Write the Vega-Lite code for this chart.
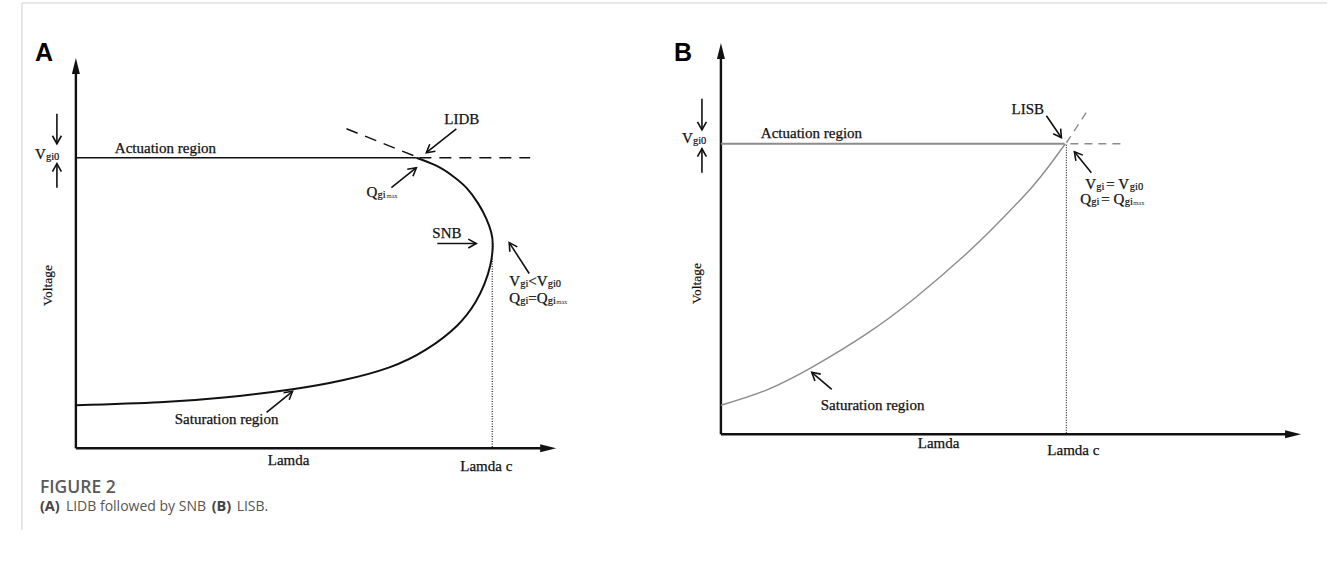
{
  "$schema": "https://vega.github.io/schema/vega-lite/v6.json",
  "width": 1329,
  "height": 561,
  "autosize": {"type": "fit", "contains": "padding"},
  "padding": 0,
  "background": "white",
  "config": {"view": {"stroke": null}},
  "datasets": {
    "lines": [
      {"g":"border","id":"b1","o":0,"x":22,"y":2},{"g":"border","id":"b1","o":1,"x":1329,"y":2},
      {"g":"border","id":"b2","o":0,"x":22,"y":2},{"g":"border","id":"b2","o":1,"x":22,"y":530},
      {"g":"axis","id":"aAy","o":0,"x":76,"y":448},{"g":"axis","id":"aAy","o":1,"x":76,"y":66},
      {"g":"axis","id":"aAx","o":0,"x":76,"y":448},{"g":"axis","id":"aAx","o":1,"x":548,"y":448},
      {"g":"axis","id":"aBy","o":0,"x":722,"y":434},{"g":"axis","id":"aBy","o":1,"x":722,"y":51},
      {"g":"axis","id":"aBx","o":0,"x":722,"y":434},{"g":"axis","id":"aBx","o":1,"x":1294,"y":434},
      {"g":"curveA","id":"cA","o":0,"x":417,"y":157},
      {"g":"curveA","id":"cA","o":1,"x":437,"y":165},
      {"g":"curveA","id":"cA","o":2,"x":453,"y":175},
      {"g":"curveA","id":"cA","o":3,"x":467,"y":187},
      {"g":"curveA","id":"cA","o":4,"x":479,"y":203},
      {"g":"curveA","id":"cA","o":5,"x":487,"y":218},
      {"g":"curveA","id":"cA","o":6,"x":492,"y":232},
      {"g":"curveA","id":"cA","o":7,"x":493.5,"y":246},
      {"g":"curveA","id":"cA","o":8,"x":491,"y":265},
      {"g":"curveA","id":"cA","o":9,"x":485,"y":284},
      {"g":"curveA","id":"cA","o":10,"x":476,"y":302},
      {"g":"curveA","id":"cA","o":11,"x":458,"y":325},
      {"g":"curveA","id":"cA","o":12,"x":427,"y":349},
      {"g":"curveA","id":"cA","o":13,"x":390,"y":367},
      {"g":"curveA","id":"cA","o":14,"x":343,"y":380},
      {"g":"curveA","id":"cA","o":15,"x":293,"y":389},
      {"g":"curveA","id":"cA","o":16,"x":227,"y":397},
      {"g":"curveA","id":"cA","o":17,"x":160,"y":402},
      {"g":"curveA","id":"cA","o":18,"x":76,"y":405},
      {"g":"solidA","id":"sA","o":0,"x":76,"y":157},{"g":"solidA","id":"sA","o":1,"x":417,"y":157},
      {"g":"dashA","id":"dA1","o":0,"x":347,"y":128},{"g":"dashA","id":"dA1","o":1,"x":417,"y":156},
      {"g":"dashA","id":"dA2","o":0,"x":420,"y":157},{"g":"dashA","id":"dA2","o":1,"x":531,"y":157},
      {"g":"dot","id":"dtA","o":0,"x":493,"y":243},{"g":"dot","id":"dtA","o":1,"x":493,"y":448},
      {"g":"dot","id":"dtB","o":0,"x":1068,"y":144},{"g":"dot","id":"dtB","o":1,"x":1068,"y":434},
      {"g":"grayB","id":"gB","o":0,"x":722,"y":143},{"g":"grayB","id":"gB","o":1,"x":1066,"y":143},
      {"g":"curveB","id":"cB","o":0,"x":722,"y":405},
      {"g":"curveB","id":"cB","o":1,"x":767,"y":390},
      {"g":"curveB","id":"cB","o":2,"x":813,"y":367},
      {"g":"curveB","id":"cB","o":3,"x":867,"y":334},
      {"g":"curveB","id":"cB","o":4,"x":917,"y":297},
      {"g":"curveB","id":"cB","o":5,"x":967,"y":254},
      {"g":"curveB","id":"cB","o":6,"x":1000,"y":222},
      {"g":"curveB","id":"cB","o":7,"x":1033,"y":187},
      {"g":"curveB","id":"cB","o":8,"x":1053,"y":162},
      {"g":"curveB","id":"cB","o":9,"x":1067,"y":143},
      {"g":"dashB","id":"dB1","o":0,"x":1068,"y":142},{"g":"dashB","id":"dB1","o":1,"x":1089,"y":110},
      {"g":"dashB","id":"dB2","o":0,"x":1072,"y":143},{"g":"dashB","id":"dB2","o":1,"x":1126,"y":143},
      {"g":"arrow","id":"ar1s","o":0,"x":57,"y":113},{"g":"arrow","id":"ar1s","o":1,"x":57,"y":143},
      {"g":"arrow","id":"ar1h","o":0,"x":52.5,"y":135},{"g":"arrow","id":"ar1h","o":1,"x":57,"y":143},{"g":"arrow","id":"ar1h","o":2,"x":61.5,"y":135},
      {"g":"arrow","id":"ar2s","o":0,"x":57,"y":187},{"g":"arrow","id":"ar2s","o":1,"x":57,"y":163},
      {"g":"arrow","id":"ar2h","o":0,"x":52.5,"y":171},{"g":"arrow","id":"ar2h","o":1,"x":57,"y":163},{"g":"arrow","id":"ar2h","o":2,"x":61.5,"y":171},
      {"g":"arrow","id":"ar3s","o":0,"x":457,"y":128},{"g":"arrow","id":"ar3s","o":1,"x":427,"y":152},
      {"g":"arrow","id":"ar3h","o":0,"x":436.1,"y":150.5},{"g":"arrow","id":"ar3h","o":1,"x":427,"y":152},{"g":"arrow","id":"ar3h","o":2,"x":430.4,"y":143.5},
      {"g":"arrow","id":"ar4s","o":0,"x":392,"y":187},{"g":"arrow","id":"ar4s","o":1,"x":417,"y":167},
      {"g":"arrow","id":"ar4h","o":0,"x":413.6,"y":175.5},{"g":"arrow","id":"ar4h","o":1,"x":417,"y":167},{"g":"arrow","id":"ar4h","o":2,"x":407.9,"y":168.5},
      {"g":"arrow","id":"ar5s","o":0,"x":438,"y":243},{"g":"arrow","id":"ar5s","o":1,"x":477,"y":243},
      {"g":"arrow","id":"ar5h","o":0,"x":469,"y":238.5},{"g":"arrow","id":"ar5h","o":1,"x":477,"y":243},{"g":"arrow","id":"ar5h","o":2,"x":469,"y":247.5},
      {"g":"arrow","id":"ar6s","o":0,"x":530,"y":273},{"g":"arrow","id":"ar6s","o":1,"x":510,"y":242},
      {"g":"arrow","id":"ar6h","o":0,"x":518.1,"y":246.3},{"g":"arrow","id":"ar6h","o":1,"x":510,"y":242},{"g":"arrow","id":"ar6h","o":2,"x":510.6,"y":251.2},
      {"g":"arrow","id":"ar7s","o":0,"x":267,"y":412},{"g":"arrow","id":"ar7s","o":1,"x":293,"y":391},
      {"g":"arrow","id":"ar7h","o":0,"x":289.6,"y":399.5},{"g":"arrow","id":"ar7h","o":1,"x":293,"y":391},{"g":"arrow","id":"ar7h","o":2,"x":284,"y":392.5},
      {"g":"arrow","id":"br1s","o":0,"x":703,"y":98},{"g":"arrow","id":"br1s","o":1,"x":703,"y":129},
      {"g":"arrow","id":"br1h","o":0,"x":698.5,"y":121},{"g":"arrow","id":"br1h","o":1,"x":703,"y":129},{"g":"arrow","id":"br1h","o":2,"x":707.5,"y":121},
      {"g":"arrow","id":"br2s","o":0,"x":703,"y":172},{"g":"arrow","id":"br2s","o":1,"x":703,"y":148},
      {"g":"arrow","id":"br2h","o":0,"x":698.5,"y":156},{"g":"arrow","id":"br2h","o":1,"x":703,"y":148},{"g":"arrow","id":"br2h","o":2,"x":707.5,"y":156},
      {"g":"arrow","id":"br3s","o":0,"x":1048,"y":115},{"g":"arrow","id":"br3s","o":1,"x":1063,"y":137},
      {"g":"arrow","id":"br3h","o":0,"x":1062.2,"y":127.8},{"g":"arrow","id":"br3h","o":1,"x":1063,"y":137},{"g":"arrow","id":"br3h","o":2,"x":1054.8,"y":132.9},
      {"g":"arrow","id":"br4s","o":0,"x":1093,"y":172},{"g":"arrow","id":"br4s","o":1,"x":1076,"y":151},
      {"g":"arrow","id":"br4h","o":0,"x":1084.5,"y":154.4},{"g":"arrow","id":"br4h","o":1,"x":1076,"y":151},{"g":"arrow","id":"br4h","o":2,"x":1077.5,"y":160.1},
      {"g":"arrow","id":"br5s","o":0,"x":833,"y":389},{"g":"arrow","id":"br5s","o":1,"x":813,"y":372},
      {"g":"arrow","id":"br5h","o":0,"x":822,"y":373.8},{"g":"arrow","id":"br5h","o":1,"x":813,"y":372},{"g":"arrow","id":"br5h","o":2,"x":816.2,"y":380.6}
    ],
    "heads": [
      {"dir":"up","x":76,"y":65},
      {"dir":"up","x":722,"y":50},
      {"dir":"right","x":549,"y":448},
      {"dir":"right","x":1295,"y":434}
    ],
    "texts": [
      {"k":"lab","t":"Actuation region","x":115,"y":147},
      {"k":"lab","t":"V","x":35,"y":153},
      {"k":"lab","t":"LIDB","x":445,"y":118},
      {"k":"lab","t":"Q","x":367,"y":191},
      {"k":"lab","t":"SNB","x":433,"y":232},
      {"k":"lab","t":"V","x":510,"y":281},
      {"k":"lab","t":"<V","x":529,"y":281},
      {"k":"lab","t":"Q","x":510,"y":298},
      {"k":"lab","t":"=Q","x":529,"y":298},
      {"k":"lab","t":"Saturation region","x":175,"y":419},
      {"k":"lab","t":"Actuation region","x":762,"y":132},
      {"k":"lab","t":"V","x":683,"y":137},
      {"k":"lab","t":"LISB","x":1013,"y":108},
      {"k":"lab","t":"V","x":1087,"y":183},
      {"k":"lab","t":"= V","x":1108,"y":183},
      {"k":"lab","t":"Q","x":1082,"y":198},
      {"k":"lab","t":"= Q","x":1103,"y":198},
      {"k":"lab","t":"Saturation region","x":822,"y":405},
      {"k":"labc","t":"Lamda","x":289,"y":460},
      {"k":"labc","t":"Lamda c","x":487,"y":466},
      {"k":"labc","t":"Lamda","x":940,"y":443},
      {"k":"labc","t":"Lamda c","x":1075,"y":450},
      {"k":"sub","t":"gi0","x":46,"y":156},
      {"k":"sub","t":"gi","x":378,"y":194},
      {"k":"sub","t":"gi","x":521,"y":284},
      {"k":"sub","t":"gi0","x":548.5,"y":284},
      {"k":"sub","t":"gi","x":521,"y":301},
      {"k":"sub","t":"gi","x":548.5,"y":301},
      {"k":"sub","t":"gi0","x":694,"y":140},
      {"k":"sub","t":"gi","x":1098,"y":186},
      {"k":"sub","t":"gi0","x":1131.5,"y":186},
      {"k":"sub","t":"gi","x":1093,"y":201},
      {"k":"sub","t":"gi","x":1126.5,"y":201},
      {"k":"tiny","t":"max","x":387,"y":195},
      {"k":"tiny","t":"max","x":557,"y":302},
      {"k":"tiny","t":"max","x":1135,"y":202},
      {"k":"vol","t":"Voltage","x":48,"y":285},
      {"k":"vol","t":"Voltage","x":698,"y":283},
      {"k":"big","t":"A","x":35,"y":52},
      {"k":"big","t":"B","x":675,"y":52},
      {"k":"capt","t":"FIGURE 2","x":40,"y":488},
      {"k":"capb","t":"(A)","x":40,"y":507},
      {"k":"capb","t":"(B)","x":212,"y":507},
      {"k":"capn","t":"LIDB followed by SNB","x":66,"y":507},
      {"k":"capn","t":"LISB.","x":237,"y":507}
    ]
  },
  "layer": [
    {
      "data": {"name": "lines"},
      "transform": [{"filter": "datum.g == 'border'"}],
      "mark": {"type": "line", "stroke": "#cfcfcf", "strokeWidth": 1},
      "encoding": {
        "x": {"field": "x", "type": "quantitative", "scale": {"domain": [0, 1329], "nice": false, "zero": false}, "axis": null},
        "y": {"field": "y", "type": "quantitative", "scale": {"domain": [0, 561], "reverse": true, "nice": false, "zero": false}, "axis": null},
        "detail": {"field": "id"},
        "order": {"field": "o"}
      }
    },
    {
      "data": {"name": "lines"},
      "transform": [{"filter": "datum.g == 'axis'"}],
      "mark": {"type": "line", "stroke": "#111", "strokeWidth": 2.4},
      "encoding": {
        "x": {"field": "x", "type": "quantitative"},
        "y": {"field": "y", "type": "quantitative"},
        "detail": {"field": "id"},
        "order": {"field": "o"}
      }
    },
    {
      "data": {"name": "lines"},
      "transform": [{"filter": "datum.g == 'curveA'"}],
      "mark": {"type": "line", "stroke": "#111", "strokeWidth": 2, "interpolate": "natural"},
      "encoding": {
        "x": {"field": "x", "type": "quantitative"},
        "y": {"field": "y", "type": "quantitative"},
        "detail": {"field": "id"},
        "order": {"field": "o"}
      }
    },
    {
      "data": {"name": "lines"},
      "transform": [{"filter": "datum.g == 'solidA'"}],
      "mark": {"type": "line", "stroke": "#111", "strokeWidth": 1.6},
      "encoding": {
        "x": {"field": "x", "type": "quantitative"},
        "y": {"field": "y", "type": "quantitative"},
        "detail": {"field": "id"},
        "order": {"field": "o"}
      }
    },
    {
      "data": {"name": "lines"},
      "transform": [{"filter": "datum.g == 'dashA'"}],
      "mark": {"type": "line", "stroke": "#111", "strokeWidth": 1.4, "strokeDash": [12, 8]},
      "encoding": {
        "x": {"field": "x", "type": "quantitative"},
        "y": {"field": "y", "type": "quantitative"},
        "detail": {"field": "id"},
        "order": {"field": "o"}
      }
    },
    {
      "data": {"name": "lines"},
      "transform": [{"filter": "datum.g == 'dot'"}],
      "mark": {"type": "line", "stroke": "#222", "strokeWidth": 1.2, "strokeDash": [1, 1.5]},
      "encoding": {
        "x": {"field": "x", "type": "quantitative"},
        "y": {"field": "y", "type": "quantitative"},
        "detail": {"field": "id"},
        "order": {"field": "o"}
      }
    },
    {
      "data": {"name": "lines"},
      "transform": [{"filter": "datum.g == 'grayB'"}],
      "mark": {"type": "line", "stroke": "#8c8c8c", "strokeWidth": 1.8},
      "encoding": {
        "x": {"field": "x", "type": "quantitative"},
        "y": {"field": "y", "type": "quantitative"},
        "detail": {"field": "id"},
        "order": {"field": "o"}
      }
    },
    {
      "data": {"name": "lines"},
      "transform": [{"filter": "datum.g == 'curveB'"}],
      "mark": {"type": "line", "stroke": "#8c8c8c", "strokeWidth": 1.4, "interpolate": "natural"},
      "encoding": {
        "x": {"field": "x", "type": "quantitative"},
        "y": {"field": "y", "type": "quantitative"},
        "detail": {"field": "id"},
        "order": {"field": "o"}
      }
    },
    {
      "data": {"name": "lines"},
      "transform": [{"filter": "datum.g == 'dashB'"}],
      "mark": {"type": "line", "stroke": "#8c8c8c", "strokeWidth": 1.4, "strokeDash": [8, 6]},
      "encoding": {
        "x": {"field": "x", "type": "quantitative"},
        "y": {"field": "y", "type": "quantitative"},
        "detail": {"field": "id"},
        "order": {"field": "o"}
      }
    },
    {
      "data": {"name": "lines"},
      "transform": [{"filter": "datum.g == 'arrow'"}],
      "mark": {"type": "line", "stroke": "#111", "strokeWidth": 1.6},
      "encoding": {
        "x": {"field": "x", "type": "quantitative"},
        "y": {"field": "y", "type": "quantitative"},
        "detail": {"field": "id"},
        "order": {"field": "o"}
      }
    },
    {
      "data": {"name": "heads"},
      "transform": [{"filter": "datum.dir == 'up'"}],
      "mark": {"type": "point", "shape": "M0,-1L0.5,1L-0.5,1Z", "filled": true, "fill": "#111", "stroke": null, "size": 256, "opacity": 1},
      "encoding": {
        "x": {"field": "x", "type": "quantitative"},
        "y": {"field": "y", "type": "quantitative"}
      }
    },
    {
      "data": {"name": "heads"},
      "transform": [{"filter": "datum.dir == 'right'"}],
      "mark": {"type": "point", "shape": "M1,0L-1,-0.5L-1,0.5Z", "filled": true, "fill": "#111", "stroke": null, "size": 256, "opacity": 1},
      "encoding": {
        "x": {"field": "x", "type": "quantitative"},
        "y": {"field": "y", "type": "quantitative"}
      }
    },
    {
      "data": {"name": "texts"},
      "transform": [{"filter": "datum.k == 'lab'"}],
      "mark": {"type": "text", "font": "Liberation Serif", "fontSize": 15, "align": "left", "baseline": "middle", "fill": "#111", "stroke": "#111", "strokeWidth": 0.25},
      "encoding": {
        "x": {"field": "x", "type": "quantitative"},
        "y": {"field": "y", "type": "quantitative"},
        "text": {"field": "t"}
      }
    },
    {
      "data": {"name": "texts"},
      "transform": [{"filter": "datum.k == 'labc'"}],
      "mark": {"type": "text", "font": "Liberation Serif", "fontSize": 15, "align": "center", "baseline": "middle", "fill": "#111", "stroke": "#111", "strokeWidth": 0.25},
      "encoding": {
        "x": {"field": "x", "type": "quantitative"},
        "y": {"field": "y", "type": "quantitative"},
        "text": {"field": "t"}
      }
    },
    {
      "data": {"name": "texts"},
      "transform": [{"filter": "datum.k == 'sub'"}],
      "mark": {"type": "text", "font": "Liberation Serif", "fontSize": 10.5, "align": "left", "baseline": "middle", "fill": "#111", "stroke": "#111", "strokeWidth": 0.2},
      "encoding": {
        "x": {"field": "x", "type": "quantitative"},
        "y": {"field": "y", "type": "quantitative"},
        "text": {"field": "t"}
      }
    },
    {
      "data": {"name": "texts"},
      "transform": [{"filter": "datum.k == 'tiny'"}],
      "mark": {"type": "text", "font": "Liberation Serif", "fontSize": 6.5, "align": "left", "baseline": "middle", "fill": "#333"},
      "encoding": {
        "x": {"field": "x", "type": "quantitative"},
        "y": {"field": "y", "type": "quantitative"},
        "text": {"field": "t"}
      }
    },
    {
      "data": {"name": "texts"},
      "transform": [{"filter": "datum.k == 'vol'"}],
      "mark": {"type": "text", "font": "Liberation Serif", "fontSize": 13.5, "align": "center", "baseline": "middle", "angle": 270, "fill": "#111", "stroke": "#111", "strokeWidth": 0.2},
      "encoding": {
        "x": {"field": "x", "type": "quantitative"},
        "y": {"field": "y", "type": "quantitative"},
        "text": {"field": "t"}
      }
    },
    {
      "data": {"name": "texts"},
      "transform": [{"filter": "datum.k == 'big'"}],
      "mark": {"type": "text", "font": "Liberation Sans", "fontWeight": "bold", "fontSize": 25, "align": "left", "baseline": "middle", "fill": "#000"},
      "encoding": {
        "x": {"field": "x", "type": "quantitative"},
        "y": {"field": "y", "type": "quantitative"},
        "text": {"field": "t"}
      }
    },
    {
      "data": {"name": "texts"},
      "transform": [{"filter": "datum.k == 'capt'"}],
      "mark": {"type": "text", "font": "Open Sans", "fontWeight": 600, "fontSize": 17.5, "align": "left", "baseline": "middle", "fill": "#5a5a5a"},
      "encoding": {
        "x": {"field": "x", "type": "quantitative"},
        "y": {"field": "y", "type": "quantitative"},
        "text": {"field": "t"}
      }
    },
    {
      "data": {"name": "texts"},
      "transform": [{"filter": "datum.k == 'capb'"}],
      "mark": {"type": "text", "font": "Open Sans", "fontWeight": "bold", "fontSize": 14.5, "align": "left", "baseline": "middle", "fill": "#444"},
      "encoding": {
        "x": {"field": "x", "type": "quantitative"},
        "y": {"field": "y", "type": "quantitative"},
        "text": {"field": "t"}
      }
    },
    {
      "data": {"name": "texts"},
      "transform": [{"filter": "datum.k == 'capn'"}],
      "mark": {"type": "text", "font": "Open Sans", "fontSize": 14, "align": "left", "baseline": "middle", "fill": "#555"},
      "encoding": {
        "x": {"field": "x", "type": "quantitative"},
        "y": {"field": "y", "type": "quantitative"},
        "text": {"field": "t"}
      }
    }
  ]
}
